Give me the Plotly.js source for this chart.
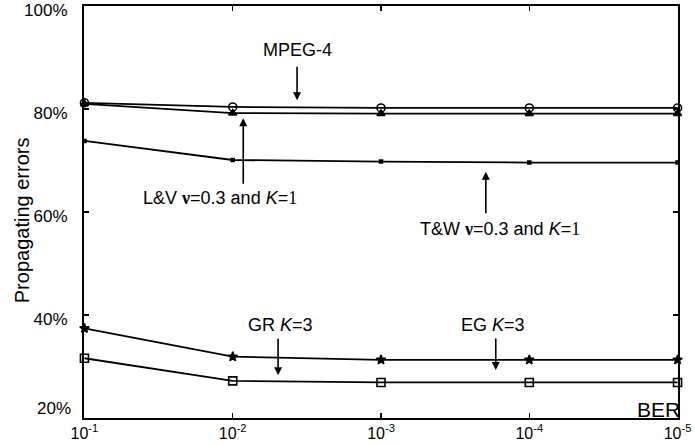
<!DOCTYPE html>
<html><head><meta charset="utf-8">
<script src="https://cdn.plot.ly/plotly-3.0.1.min.js"></script>
<style>html,body{margin:0;padding:0;background:#fff}</style>
</head><body>
<div id="chart" style="width:695px;height:445px"></div>
<script>
const ber = [1e-1, 1e-2, 1e-3, 1e-4, 1e-5];
const berTickText = ['10<sup>-1</sup>','10<sup>-2</sup>','10<sup>-3</sup>','10<sup>-4</sup>','10<sup>-5</sup>'];
const pctTicks = [20, 40, 60, 80, 100];
const pctTickText = ['20%','40%','60%','80%','100%'];
const mpeg4 = [81.2, 80.4, 80.2, 80.2, 80.2];
const lv = [81.0, 79.2, 79.1, 79.1, 79.1];
const tw = [73.8, 70.1, 69.8, 69.6, 69.6];
const eg = [37.4, 31.9, 31.3, 31.3, 31.3];
const gr = [31.6, 27.2, 26.9, 26.9, 26.9];

const line = {color:'#000', width:1.8};
function tr(y, sym, size, name){
  return {x: ber, y: y, type:'scatter', mode:'lines+markers', name: name, cliponaxis:false,
    line: line, marker:{symbol: sym, size: size, color:'#000', line:{color:'#000', width:1.6}}};
}
const data = [
  tr(mpeg4, 'circle-open', 8, 'MPEG-4'),
  tr(lv, 'triangle-up', 7, 'L&V'),
  tr(tw, 'square', 3, 'T&W'),
  tr(eg, 'star', 7, 'EG'),
  tr(gr, 'square-open', 8, 'GR')
];
const FAM = 'Liberation Sans, Arial, sans-serif';
const F = {family:FAM, size:17, color:'#000'};
const FX = {family:FAM, size:16, color:'#000'};
const FA = {family:FAM, size:18, color:'#000'};
const nu = '<span style="font-family:Liberation Serif"><b>ν</b></span>';
const k1 = '<i>K</i>=<span style="font-family:Liberation Serif">1</span>';
function arrow(x, y, ay){
  return {x:x, y:y, xref:'x', yref:'y', ax:0, ay:ay, text:'', showarrow:true,
    arrowhead:2, arrowsize:1, arrowwidth:1.6, arrowcolor:'#000'};
}
function label(x, y, t){
  return {x:x, y:y, xref:'x', yref:'y', text:t, showarrow:false, font:FA};
}
// lowest tick label sits a little above the axis in the reference; drawn as an annotation
const yTickTextShown = pctTickText.map((t, i) => i === 0 ? '' : t);
const layout = {
  width:695, height:445,
  margin:{l:84, r:17, t:6, b:27},
  paper_bgcolor:'#fff', plot_bgcolor:'#fff',
  showlegend:false,
  font:F,
  xaxis:{type:'log', range:[-0.997,-5.003], tickvals:ber, ticktext:berTickText,
    ticks:'inside', ticklen:5, tickwidth:1.5, tickcolor:'#000',
    showline:true, linecolor:'#000', linewidth:2, mirror:'ticks',
    showgrid:false, zeroline:false, tickfont:FX, ticklabeloverflow:'allow'},
  yaxis:{range:[20,100], tickvals:pctTicks, ticktext:yTickTextShown,
    ticks:'inside', ticklen:5, tickwidth:1.5, tickcolor:'#000',
    showline:true, linecolor:'#000', linewidth:2, mirror:'ticks',
    showgrid:false, zeroline:false, tickfont:F, ticklabeloverflow:'allow',
    ticklabelshift:4, ticklabelstandoff:11},
  annotations:[
    {x:0, y:pctTicks[0], xref:'paper', yref:'y', xanchor:'right', yanchor:'middle', xshift:-11, yshift:10,
      text:pctTickText[0], showarrow:false, font:F},
    {x:-0.1044, y:0.48, xref:'paper', yref:'paper', xanchor:'center', yanchor:'middle', textangle:-90,
      text:'Propagating errors', showarrow:false, font:{family:FAM, size:20, color:'#000'}},
    label(-2.434, 91.5, 'MPEG-4'),
    arrow(-2.434, 81.7, -35),
    label(-1.916, 62.7, 'L&V ' + nu + '=0.3 and ' + k1),
    arrow(-2.071, 78.2, 67),
    label(-3.801, 56.7, 'T&W ' + nu + '=0.3 and ' + k1),
    arrow(-3.707, 67.8, 43),
    label(-2.32, 38.1, 'GR <i>K</i>=3'),
    arrow(-2.306, 28.3, -38),
    label(-3.754, 38.1, 'EG <i>K</i>=3'),
    arrow(-3.774, 29.3, -33),
    {x:1.0, y:0.0, xref:'paper', yref:'paper', xanchor:'left', yanchor:'middle', xshift:-43, yshift:9,
      text:'BER', showarrow:false, font:{family:FAM, size:21, color:'#000'}}
  ]
};
Plotly.newPlot('chart', data, layout, {displayModeBar:false, staticPlot:true});
</script>
</body></html>
